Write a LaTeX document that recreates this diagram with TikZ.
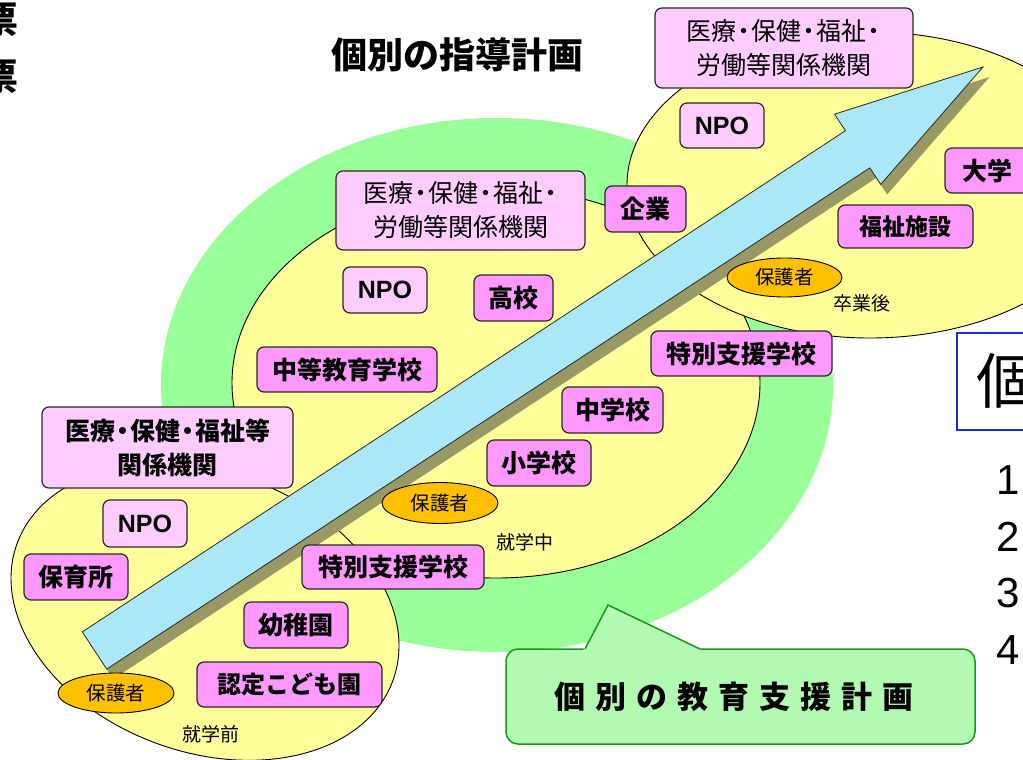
\documentclass[tikz,border=0pt]{standalone}
\usepackage{fontspec}
\setmainfont{Noto Sans CJK JP}
\newfontfamily\lat{Liberation Sans}
\usetikzlibrary{shapes.geometric}
\definecolor{grn}{RGB}{153,255,153}
\definecolor{yel}{RGB}{255,255,153}
\definecolor{pinkL}{RGB}{255,204,255}
\definecolor{pinkD}{RGB}{255,153,255}
\definecolor{org}{RGB}{255,192,0}
\definecolor{arr}{RGB}{170,232,248}
\definecolor{shd}{RGB}{153,153,102}
\definecolor{cfill}{RGB}{178,250,178}
\definecolor{cline}{RGB}{30,150,30}
\definecolor{bline}{RGB}{40,40,40}
\definecolor{kblue}{RGB}{30,40,230}
\newcommand\nd{\kern-0.2em・\kern-0.2em}
\begin{document}
\begin{tikzpicture}[x=1pt,y=-1pt,
  sz/.style 2 args={minimum width=#1pt, minimum height=#2pt},
  box/.style={draw=bline, line width=1.2pt, rounded corners=7pt, inner sep=0pt, align=center},
  bold/.style={font=\bfseries\fontsize{25}{34}\selectfont},
  med/.style={font=\fontsize{25}{34}\selectfont},
  lbox/.style={box, fill=pinkL},
  dbox/.style={box, fill=pinkD},
  npo/.style={lbox, font=\lat\bfseries\fontsize{25}{30}\selectfont},
  oval/.style={ellipse, draw=black, line width=0.9pt, fill=org, inner sep=0pt, font=\fontsize{19.5}{20}\selectfont},
  small/.style={inner sep=0pt, font=\fontsize{19}{20}\selectfont},
  ell/.style={fill=yel, draw=black, line width=0.9pt},
  digit/.style={inner sep=0pt, anchor=base west, font=\lat\fontsize{42}{44}\selectfont},
]
\fill[white] (0,0) rectangle (1023,760);
\useasboundingbox (0,0) rectangle (1023,760);

% background ellipses
\fill[grn] (497,385) ellipse [x radius=336, y radius=267];
\draw[ell] (496,383) ellipse [x radius=264, y radius=195];
\draw[ell] (870,185) ellipse [x radius=243, y radius=153];
\draw[ell, rotate around={-20:(205,612)}] (205,612) ellipse [x radius=200, y radius=140];

% arrow shadow and arrow
\fill[shd] (88.8,641.9) -- (851.9,140.7) -- (841.0,124.2) -- (989.5,77) -- (887.2,194.4) -- (876.3,177.9) -- (113.2,679.1) -- cycle;
\draw[fill=arr, draw=bline, line width=0.8pt, line join=miter]
  (82.3,631.9) -- (845.4,130.7) -- (834.5,114.2) -- (983,67) -- (880.7,184.4) -- (869.8,167.9) -- (106.7,669.1) -- cycle;

% after graduation
\node[lbox, med, sz={258}{80}] (medR) at (784,48) {医療\nd{}保健\nd{}福祉\nd{}\\労働等関係機関};
\node[npo, sz={84}{45}] (npoR) at (722,125.5) {NPO};
\node[dbox, bold, sz={85}{45}] (daigaku) at (987.5,170.5) {大学};
\node[dbox, font=\bfseries\fontsize{23}{30}\selectfont, sz={135}{43}] (fukushi) at (905.5,226.5) {福祉施設};
\node[oval, sz={115}{39}] (hogoR) at (784.5,277.5) {保護者};
\node[small] (sotsugyo) at (862,303) {卒業後};

% in school
\node[dbox, bold, sz={81}{46}] (kigyo) at (645.5,209) {企業};
\node[lbox, med, sz={249}{79}] (medM) at (460.5,210.5) {医療\nd{}保健\nd{}福祉\nd{}\\労働等関係機関};
\node[npo, sz={84}{46}] (npoM) at (385,290) {NPO};
\node[dbox, bold, sz={79}{46}] (koko) at (513.5,298) {高校};
\node[dbox, bold, sz={180}{45}] (chuto) at (347,369.5) {中等教育学校};
\node[dbox, bold, sz={181}{45}] (tokuU) at (741.5,353.5) {特別支援学校};
\node[dbox, bold, sz={101}{46}] (chugaku) at (612.5,410) {中学校};
\node[dbox, bold, sz={104}{46}] (shogaku) at (539,463) {小学校};
\node[oval, sz={116}{41}] (hogoM) at (440,503) {保護者};
\node[small] (shugakuchu) at (525,542) {就学中};
\node[dbox, bold, sz={182}{44}] (tokuL) at (393,567) {特別支援学校};

% before school
\node[lbox, bold, sz={251}{81}] (medL) at (167.5,447.5) {医療\nd{}保健\nd{}福祉等\\関係機関};
\node[npo, sz={84}{47}] (npoL) at (145,523.5) {NPO};
\node[dbox, bold, sz={104}{46}] (hoiku) at (76,577) {保育所};
\node[dbox, bold, sz={104}{46}] (yochi) at (296,625) {幼稚園};
\node[dbox, font=\bfseries\fontsize{24}{30}\selectfont, sz={185}{45}] (nintei) at (289.5,684.5) {認定こども園};
\node[oval, sz={116}{40}] (hogoL) at (116,693) {保護者};
\node[small] (shugakuzen) at (211,734) {就学前};

% callout
\node[draw=cline, fill=cfill, line width=1.5pt, rounded corners=12pt, sz={469}{95}] (callout) at (740.5,696.5) {};
\fill[cfill] (583,650.4) -- (608,605) -- (702,650.4) -- cycle;
\draw[cline, line width=1.5pt, line join=miter] (585,649) -- (608,605) -- (700,649);
\node[inner sep=0pt, font=\bfseries\fontsize{31}{34}\selectfont] (ctext) at (734,697)
  {個\hspace{10pt}別\hspace{10pt}の\hspace{10pt}教\hspace{10pt}育\hspace{10pt}支\hspace{10pt}援\hspace{10pt}計\hspace{10pt}画};

% title
\node[inner sep=0pt, font=\bfseries\fontsize{36}{40}\selectfont] (title) at (457,55) {個別の指導計画};

% right edge fragments
\node[draw=kblue, fill=white, line width=1.5pt, inner sep=0pt, sz={80}{97}] (kobox) at (997,381.5) {};
\node[inner sep=0pt, font=\fontsize{60}{64}\selectfont] (ko) at (1006,381) {個};
\node[digit] (n1) at (996,494) {1};
\node[digit] (n2) at (996,551) {2};
\node[digit] (n3) at (996,607) {3};
\node[digit] (n4) at (996,664) {4};

% left edge fragments
\node[inner sep=0pt, font=\bfseries\fontsize{37}{40}\selectfont] (hyo1) at (0,20) {票};
\node[inner sep=0pt, font=\bfseries\fontsize{37}{40}\selectfont] (hyo2) at (0,77) {票};
\end{tikzpicture}
\end{document}
